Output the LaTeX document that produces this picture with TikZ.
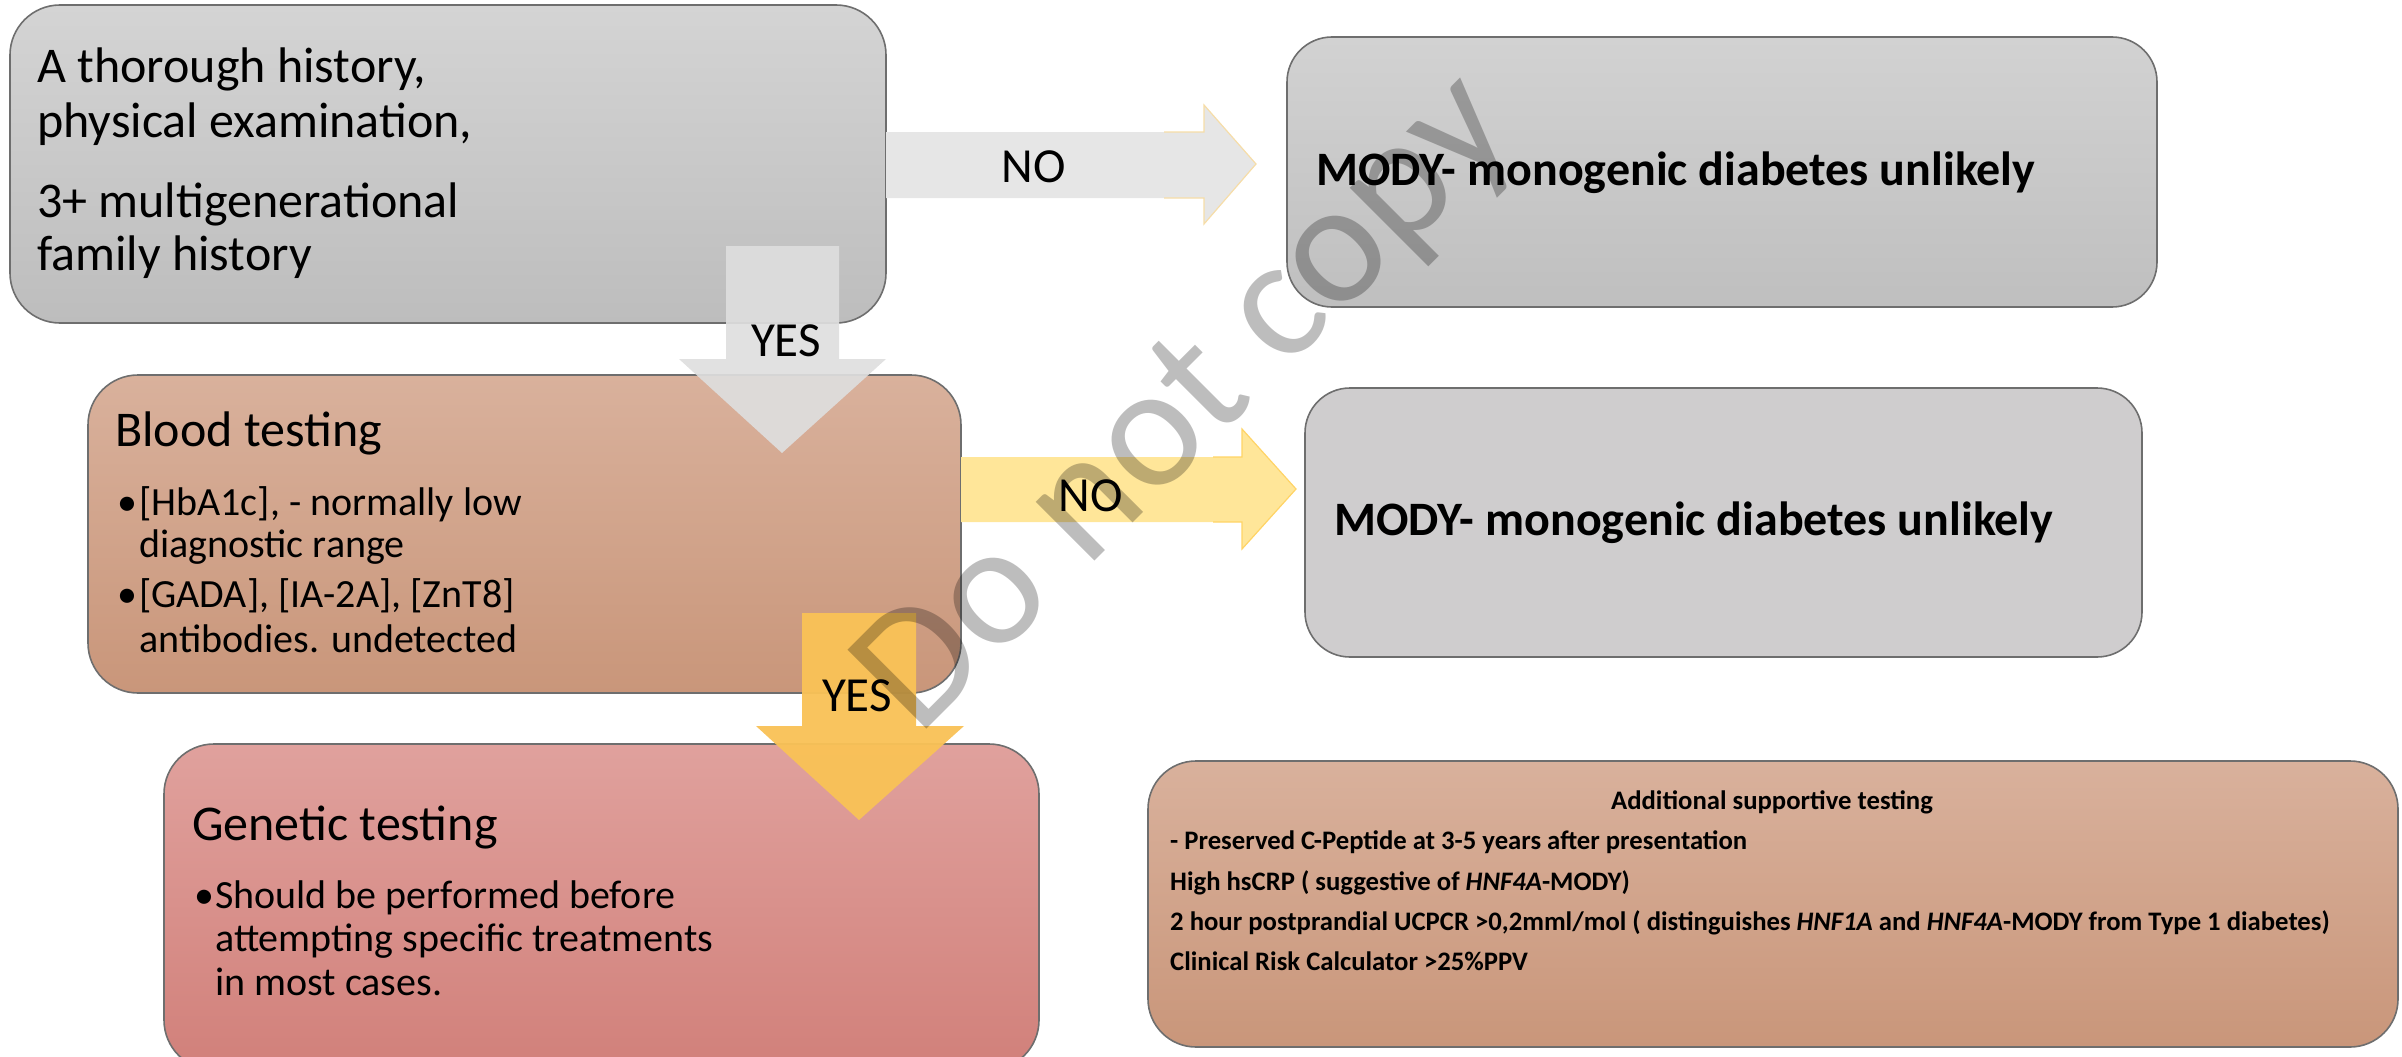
\documentclass[tikz,border=0pt]{standalone}
\usepackage{fontspec}
\setmainfont{Carlito}
\newcommand\fsz[1]{\fontsize{#1}{#1}\selectfont}
\definecolor{edge}{HTML}{6E6E6E}
\definecolor{greyA}{HTML}{D4D4D4}
\definecolor{greyB}{HTML}{BDBDBD}
\definecolor{greyC}{HTML}{D2D2D2}
\definecolor{greyD}{HTML}{BFBFBF}
\definecolor{greyE}{HTML}{CFCDCE}
\definecolor{tanA}{HTML}{D9B19C}
\definecolor{tanB}{HTML}{C9967A}
\definecolor{roseA}{HTML}{E0A19D}
\definecolor{roseB}{HTML}{D1807A}
\definecolor{noGrey}{HTML}{E6E6E6}
\definecolor{noGreyEdge}{HTML}{F6DDA8}
\definecolor{noYellow}{HTML}{FFE699}
\definecolor{noYellowEdge}{HTML}{FFD466}
\definecolor{yesGrey}{HTML}{DEDEDE}
\definecolor{yesYellow}{HTML}{F9C257}
\begin{document}
\begin{tikzpicture}[x=1pt,y=-1pt,
  panel/.style={draw=edge, line width=1.6pt, inner sep=0pt, outer sep=0pt},
  txt/.style={anchor=base west, inner sep=0pt, font=#1},
  lbl/.style={anchor=base, inner sep=0pt, font=\fsz{49}},
]
\useasboundingbox (0,0) rectangle (2402,1057);

% ---- boxes ----
\node[panel, rounded corners=50pt, minimum width=876pt, minimum height=318pt,
      top color=greyA, bottom color=greyB] (hist) at (448,164) {};
\node[panel, rounded corners=45pt, minimum width=870pt, minimum height=270pt,
      top color=greyC, bottom color=greyD] (unl1) at (1722,172) {};
\node[panel, rounded corners=50pt, minimum width=873pt, minimum height=318pt,
      top color=tanA, bottom color=tanB] (blood) at (524.5,534) {};
\node[panel, rounded corners=45pt, minimum width=837pt, minimum height=269pt,
      fill=greyE] (unl2) at (1723.5,522.5) {};
\node[panel, rounded corners=50pt, minimum width=875pt, minimum height=326pt,
      top color=roseA, bottom color=roseB] (gene) at (601.5,907) {};
\node[panel, rounded corners=48pt, minimum width=1250pt, minimum height=286pt,
      top color=tanA, bottom color=tanB] (supp) at (1773,904) {};

% ---- texts in the boxes ----
\node[txt=\fsz{50}] (h1) at (37,83)  {A thorough history,};
\node[txt=\fsz{50}] (h2) at (37,137) {physical examination,};
\node[txt=\fsz{50}] (h3) at (37,217) {3+ multigenerational};
\node[txt=\fsz{50}] (h4) at (37,270) {family history};

\node[txt=\fsz{48}\bfseries] (u1) at (1316,185) {MODY- monogenic diabetes unlikely};
\node[txt=\fsz{48}\bfseries] (u2) at (1334,535) {MODY- monogenic diabetes unlikely};

\node[txt=\fsz{50}] (bt) at (115,446) {Blood testing};
\node[txt=\fsz{40}] (bd1) at (117,515) {•};
\node[txt=\fsz{40}] (b1) at (139,515) {[HbA1c], - normally low};
\node[txt=\fsz{40}] (b2) at (139,557) {diagnostic range};
\node[txt=\fsz{40}] (bd2) at (117,607) {•};
\node[txt=\fsz{40}] (b3) at (139,607) {[GADA], [IA-2A], [ZnT8]};
\node[txt=\fsz{40}] (b4) at (139,652) {antibodies. undetected};

\node[txt=\fsz{50}] (gt) at (192,840) {Genetic testing};
\node[txt=\fsz{40}] (gd1) at (194,908) {•};
\node[txt=\fsz{40}] (g1) at (215,908) {Should be performed before};
\node[txt=\fsz{40}] (g2) at (215,951) {attempting specific treatments};
\node[txt=\fsz{40}] (g3) at (215,995) {in most cases.};

\node[anchor=base, inner sep=0pt, font=\fsz{26.7}\bfseries] (st) at (1772,809) {Additional supportive testing};
\node[txt=\fsz{26.7}\bfseries] (s1) at (1170,849) {- Preserved C-Peptide at 3-5 years after presentation};
\node[txt=\fsz{26.7}\bfseries] (s2) at (1170,890) {High hsCRP ( suggestive of \textit{HNF4A}-MODY)};
\node[txt=\fsz{26.7}\bfseries] (s3) at (1170,930) {2 hour postprandial UCPCR >0,2mml/mol ( distinguishes \textit{HNF1A} and \textit{HNF4A}-MODY from Type 1 diabetes)};
\node[txt=\fsz{26.7}\bfseries] (s4) at (1170,970) {Clinical Risk Calculator >25\%PPV};

% ---- block arrows ----
% history -> unlikely (NO)
\fill[noGrey] (hist.east |- 0,132) -- (1204,132) -- (1204,105) -- (1256,164)
  -- (1204,224) -- (1204,198) -- (hist.east |- 0,198) -- cycle;
\draw[noGreyEdge, line width=1.2pt] (1164,132) -- (1204,132) -- (1204,105) -- (1256,164)
  -- (1204,224) -- (1204,198) -- (1164,198);
\node[lbl] (no1) at (1034,182) {NO};

% blood -> unlikely (NO)
\fill[noYellow] (blood.east |- 0,457) -- (1242,457) -- (1242,429) -- (1296,489)
  -- (1242,549) -- (1242,522) -- (blood.east |- 0,522) -- cycle;
\draw[noYellowEdge, line width=1.2pt] (1213,457) -- (1242,457) -- (1242,429) -- (1296,489)
  -- (1242,549) -- (1242,522) -- (1213,522);
\node[lbl] (no2) at (1091,511) {NO};

% history -> blood (YES)
\fill[yesGrey, opacity=0.92] (726,246) -- (839,246) -- (839,359) -- (886,359) -- (782,453)
  -- (679,359) -- (726,359) -- cycle;
\node[lbl] (yes1) at (786,356) {YES};

% blood -> genetic (YES)
\fill[yesYellow, opacity=0.96] (802,613) -- (916,613) -- (916,726) -- (964,726) -- (859,820)
  -- (756,726) -- (802,726) -- cycle;
\node[lbl] (yes2) at (857,711) {YES};

% ---- watermark ----
\begin{scope}[blend mode=multiply]
\node[anchor=base west, inner sep=0pt, rotate=45, font=\fsz{174}, text=black!26] (wm) at (918,738) {Do not copy};
\end{scope}
\end{tikzpicture}
\end{document}
